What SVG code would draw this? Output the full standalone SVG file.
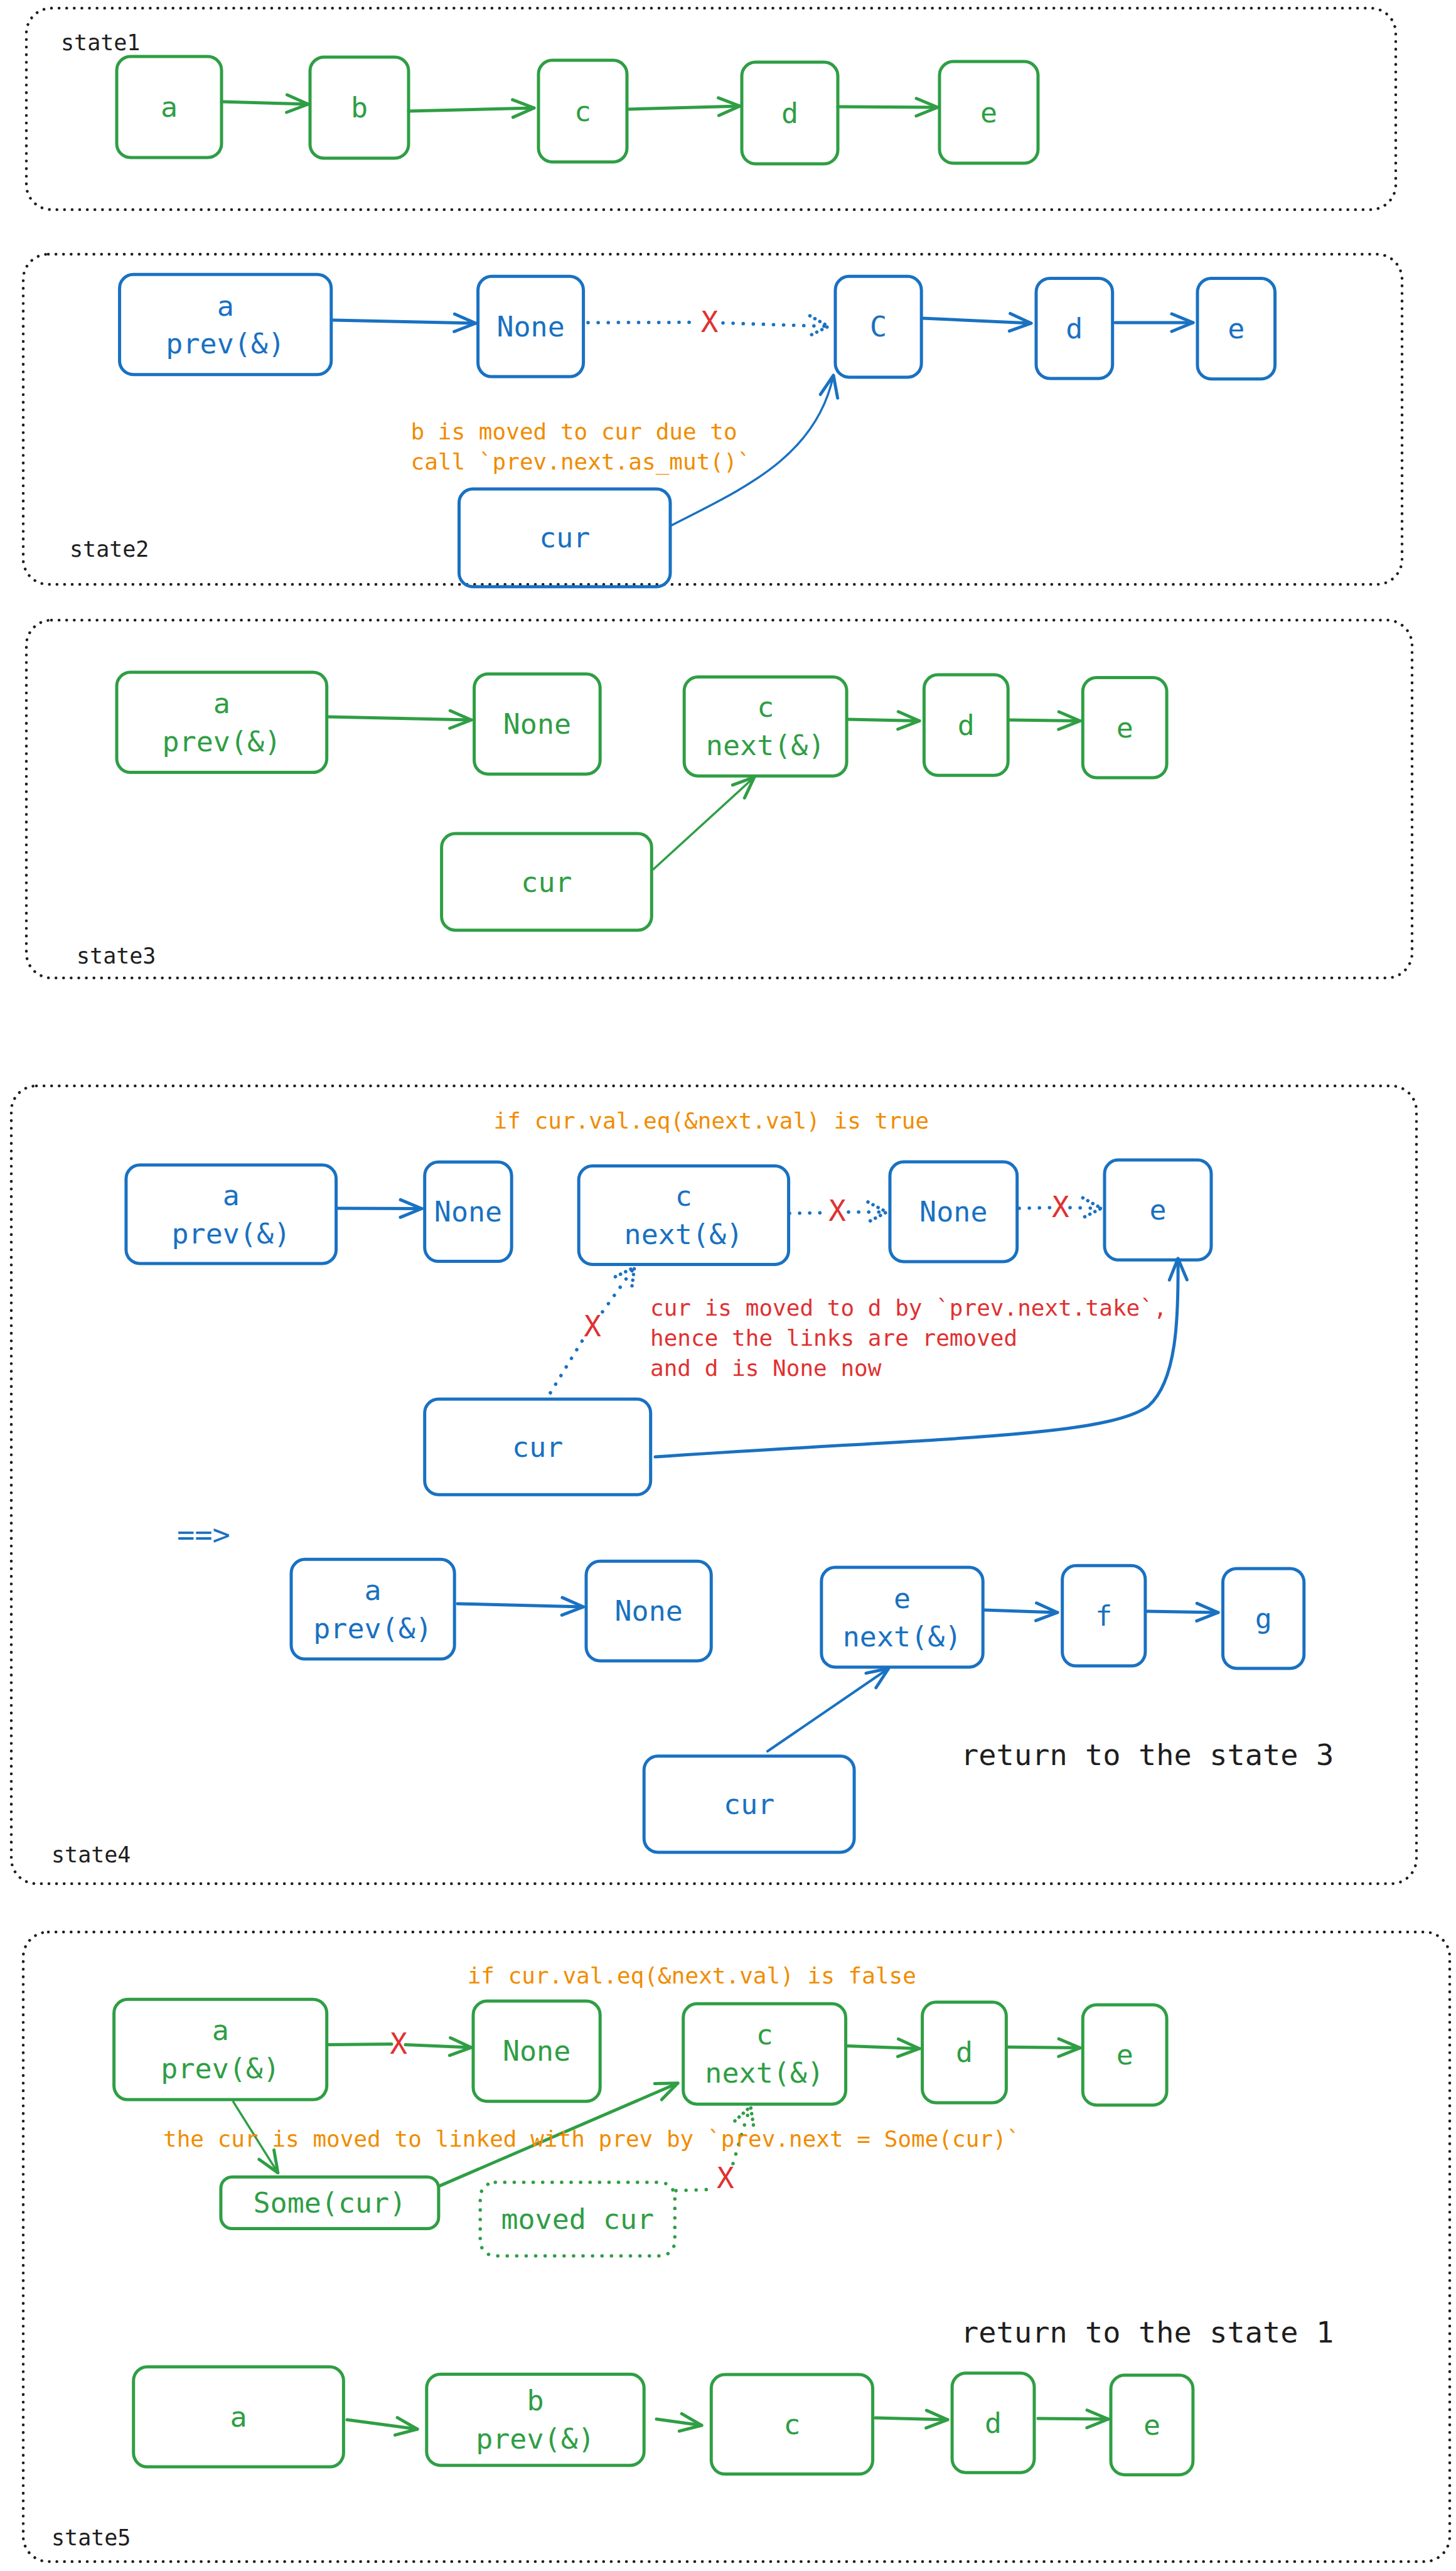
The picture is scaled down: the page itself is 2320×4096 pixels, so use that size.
<svg xmlns="http://www.w3.org/2000/svg" width="2320" height="4096" viewBox="0 0 2320 4096">
<style>
.ctr{fill:none;stroke:#1e1e1e;stroke-width:4.5;stroke-dasharray:0.1 12;stroke-linecap:round}
.nb{fill:none;stroke:#1971c2;stroke-width:5}
.ng{fill:none;stroke:#2f9e44;stroke-width:5}
.ngd{fill:none;stroke:#2f9e44;stroke-width:5.5;stroke-dasharray:0.1 15;stroke-linecap:round}
.ab{fill:none;stroke:#1971c2;stroke-width:5;stroke-linecap:round}
.ag{fill:none;stroke:#2f9e44;stroke-width:5;stroke-linecap:round}
.thin{stroke-width:3.5}
.abd{fill:none;stroke:#1971c2;stroke-width:5.5;stroke-dasharray:0.1 16;stroke-linecap:round}
.agd{fill:none;stroke:#2f9e44;stroke-width:5.5;stroke-dasharray:0.1 16;stroke-linecap:round}
text{font-family:"DejaVu Sans Mono","Liberation Mono",monospace;dominant-baseline:central}
.n{font-size:45px;text-anchor:middle}
.b{fill:#1971c2}
.g{fill:#2f9e44}
.o{fill:#f08c00;font-size:36px}
.r{fill:#e03131;font-size:36px}
.k{fill:#1e1e1e}
.lbl{font-size:35px}
.big{font-size:47px}
.x{fill:#e03131;font-size:46px;text-anchor:middle}
.mid{text-anchor:middle}
</style>
<defs>
<marker id="mb" markerUnits="userSpaceOnUse" orient="auto" overflow="visible" markerWidth="1" markerHeight="1" refX="0" refY="0"><path d="M-34,-14 L0,0 L-34,14" fill="none" stroke="#1971c2" stroke-width="5" stroke-linecap="round" stroke-linejoin="round"/></marker>
<marker id="mg" markerUnits="userSpaceOnUse" orient="auto" overflow="visible" markerWidth="1" markerHeight="1" refX="0" refY="0"><path d="M-34,-14 L0,0 L-34,14" fill="none" stroke="#2f9e44" stroke-width="5" stroke-linecap="round" stroke-linejoin="round"/></marker>
<marker id="mbd" markerUnits="userSpaceOnUse" orient="auto" overflow="visible" markerWidth="1" markerHeight="1" refX="0" refY="0"><path d="M-30,-16 L0,0 L-30,16" fill="none" stroke="#1971c2" stroke-width="5.5" stroke-dasharray="0.1 9" stroke-linecap="round"/></marker>
<marker id="mgd" markerUnits="userSpaceOnUse" orient="auto" overflow="visible" markerWidth="1" markerHeight="1" refX="0" refY="0"><path d="M-30,-16 L0,0 L-30,16" fill="none" stroke="#2f9e44" stroke-width="5.5" stroke-dasharray="0.1 9" stroke-linecap="round"/></marker>
</defs>

<g id="containers">
<rect class="ctr" x="42" y="13" width="2182" height="321" rx="40"/>
<rect class="ctr" x="37" y="405" width="2197" height="526" rx="40"/>
<rect class="ctr" x="42" y="988" width="2208" height="570" rx="40"/>
<rect class="ctr" x="18" y="1730" width="2239" height="1271" rx="40"/>
<rect class="ctr" x="37" y="3078" width="2273" height="1003" rx="40"/>
<text class="k lbl" x="97" y="68">state1</text>
<text class="k lbl" x="111" y="875">state2</text>
<text class="k lbl" x="122" y="1523">state3</text>
<text class="k lbl" x="82" y="2955">state4</text>
<text class="k lbl" x="82" y="4043">state5</text>
</g>

<!-- state1 -->
<g id="s1-a"><rect class="ng" x="186" y="90" width="167" height="161" rx="22"/><text class="n g" x="269.5" y="170.5">a</text></g>
<g id="s1-b"><rect class="ng" x="494" y="91" width="157" height="161" rx="22"/><text class="n g" x="572.5" y="171.5">b</text></g>
<g id="s1-c"><rect class="ng" x="858" y="96" width="141" height="162" rx="22"/><text class="n g" x="928.5" y="177">c</text></g>
<g id="s1-d"><rect class="ng" x="1182" y="99" width="153" height="162" rx="22"/><text class="n g" x="1258.5" y="180">d</text></g>
<g id="s1-e"><rect class="ng" x="1497" y="98" width="157" height="162" rx="22"/><text class="n g" x="1575.5" y="179">e</text></g>

<!-- state2 -->
<g id="s2-a"><rect class="nb" x="190.5" y="437.3" width="337.3" height="159.4" rx="22"/><text class="n b" x="359.2" y="487">a</text><text class="n b" x="359.2" y="547">prev(&amp;)</text></g>
<g id="s2-none"><rect class="nb" x="761.6" y="440.2" width="168" height="159.9" rx="22"/><text class="n b" x="845.6" y="520.2">None</text></g>
<g id="s2-c"><rect class="nb" x="1331" y="440.2" width="137.2" height="160.7" rx="22"/><text class="n b" x="1399.6" y="520.6">C</text></g>
<g id="s2-d"><rect class="nb" x="1651" y="443.4" width="121.7" height="159.6" rx="22"/><text class="n b" x="1711.9" y="523.2">d</text></g>
<g id="s2-e"><rect class="nb" x="1908" y="443.6" width="123.6" height="160.2" rx="22"/><text class="n b" x="1969.8" y="523.7">e</text></g>
<g id="s2-cur"><rect class="nb" x="731.5" y="779" width="336.5" height="155.7" rx="22"/><text class="n b" x="899.8" y="856.9">cur</text></g>
<g id="s2-note"><text class="o" x="654.5" y="687">b is moved to cur due to</text><text class="o" x="654.5" y="735">call `prev.next.as_mut()`</text></g>

<!-- state3 -->
<g id="s3-a"><rect class="ng" x="186" y="1071" width="334.7" height="159.6" rx="22"/><text class="n g" x="353.4" y="1120.3">a</text><text class="n g" x="353.4" y="1181.3">prev(&amp;)</text></g>
<g id="s3-none"><rect class="ng" x="755.6" y="1073.8" width="200.6" height="159.4" rx="22"/><text class="n g" x="855.9" y="1153.5">None</text></g>
<g id="s3-c"><rect class="ng" x="1090.2" y="1078.5" width="258.9" height="157.8" rx="22"/><text class="n g" x="1219.7" y="1126.9">c</text><text class="n g" x="1219.7" y="1187.9">next(&amp;)</text></g>
<g id="s3-d"><rect class="ng" x="1472.4" y="1075" width="133.8" height="160.2" rx="22"/><text class="n g" x="1539.3" y="1155.1">d</text></g>
<g id="s3-e"><rect class="ng" x="1725.3" y="1079.5" width="133.8" height="159.4" rx="22"/><text class="n g" x="1792.2" y="1159.2">e</text></g>
<g id="s3-cur"><rect class="ng" x="703.6" y="1328" width="334.7" height="153.9" rx="22"/><text class="n g" x="871" y="1405">cur</text></g>

<!-- state4 top -->
<g id="s4-title"><text class="o mid" x="1133.4" y="1785">if cur.val.eq(&amp;next.val) is true</text></g>
<g id="s4-a"><rect class="nb" x="200.9" y="1856" width="334.7" height="157" rx="22"/><text class="n b" x="368.3" y="1904">a</text><text class="n b" x="368.3" y="1965">prev(&amp;)</text></g>
<g id="s4-none"><rect class="nb" x="676.7" y="1851.3" width="138.5" height="158.3" rx="22"/><text class="n b" x="746" y="1930.5">None</text></g>
<g id="s4-c"><rect class="nb" x="922.2" y="1857.6" width="334.4" height="156.8" rx="22"/><text class="n b" x="1089.4" y="1905.5">c</text><text class="n b" x="1089.4" y="1966.5">next(&amp;)</text></g>
<g id="s4-none2"><rect class="nb" x="1418" y="1851" width="202.7" height="159" rx="22"/><text class="n b" x="1519.3" y="1930.5">None</text></g>
<g id="s4-e"><rect class="nb" x="1760" y="1848" width="170" height="159.3" rx="22"/><text class="n b" x="1845" y="1927.6">e</text></g>
<g id="s4-cur"><rect class="nb" x="676.7" y="2229" width="360" height="152.3" rx="22"/><text class="n b" x="856.7" y="2305.2">cur</text></g>
<g id="s4-note"><text class="r" x="1036" y="2083.5">cur is moved to d by `prev.next.take`,</text><text class="r" x="1036" y="2131">hence the links are removed</text><text class="r" x="1036" y="2179.5">and d is None now</text></g>

<!-- state4 bottom -->
<g id="s4-arrow-text"><text class="b big" x="282" y="2444">==&gt;</text></g>
<g id="s4b-a"><rect class="nb" x="464" y="2484.3" width="260.2" height="158.8" rx="22"/><text class="n b" x="594.1" y="2533.2">a</text><text class="n b" x="594.1" y="2594.2">prev(&amp;)</text></g>
<g id="s4b-none"><rect class="nb" x="934" y="2487.2" width="199.3" height="158.8" rx="22"/><text class="n b" x="1033.7" y="2566.6">None</text></g>
<g id="s4b-e"><rect class="nb" x="1308.9" y="2497.1" width="257.3" height="158.8" rx="22"/><text class="n b" x="1437.6" y="2546">e</text><text class="n b" x="1437.6" y="2607">next(&amp;)</text></g>
<g id="s4b-f"><rect class="nb" x="1692.7" y="2494.2" width="132.2" height="159.9" rx="22"/><text class="n b" x="1758.8" y="2574.2">f</text></g>
<g id="s4b-g"><rect class="nb" x="1948.5" y="2498.9" width="129.3" height="159.1" rx="22"/><text class="n b" x="2013.2" y="2578.5">g</text></g>
<g id="s4b-cur"><rect class="nb" x="1026.2" y="2797.8" width="334.9" height="153.1" rx="22"/><text class="n b" x="1193.7" y="2874.4">cur</text></g>
<g id="s4-return"><text class="k big" x="1531" y="2795.5">return to the state 3</text></g>

<!-- state5 -->
<g id="s5-title"><text class="o mid" x="1102.3" y="3147">if cur.val.eq(&amp;next.val) is false</text></g>
<g id="s5-a"><rect class="ng" x="181.6" y="3185.2" width="339.1" height="159.9" rx="22"/><text class="n g" x="351.2" y="3234.7">a</text><text class="n g" x="351.2" y="3295.7">prev(&amp;)</text></g>
<g id="s5-none"><rect class="ng" x="754" y="3188.1" width="202.2" height="159.6" rx="22"/><text class="n g" x="855.1" y="3267.9">None</text></g>
<g id="s5-c"><rect class="ng" x="1088.7" y="3192.3" width="258.9" height="159.9" rx="22"/><text class="n g" x="1218.2" y="3241.8">c</text><text class="n g" x="1218.2" y="3302.8">next(&amp;)</text></g>
<g id="s5-d"><rect class="ng" x="1469.6" y="3189.7" width="133.8" height="160.2" rx="22"/><text class="n g" x="1536.5" y="3269.8">d</text></g>
<g id="s5-e"><rect class="ng" x="1725.3" y="3193.9" width="133.8" height="159.9" rx="22"/><text class="n g" x="1792.2" y="3273.9">e</text></g>
<g id="s5-some"><rect class="ng" x="351.9" y="3468.2" width="347" height="82.3" rx="18"/><text class="n g" x="525.4" y="3509.4">Some(cur)</text></g>
<g id="s5-moved"><rect class="ngd" x="765.2" y="3476.8" width="310.1" height="117.3" rx="24"/><text class="n g" x="920.3" y="3535.5">moved cur</text></g>
<g id="s5-return"><text class="k big" x="1531" y="3715">return to the state 1</text></g>
<g id="s5b-a"><rect class="ng" x="212.7" y="3770.7" width="334.7" height="159.4" rx="22"/><text class="n g" x="380" y="3850.4">a</text></g>
<g id="s5b-b"><rect class="ng" x="679.8" y="3782.5" width="346.4" height="145.3" rx="22"/><text class="n g" x="853" y="3824.7">b</text><text class="n g" x="853" y="3885.7">prev(&amp;)</text></g>
<g id="s5b-c"><rect class="ng" x="1133.3" y="3783" width="257.3" height="158.6" rx="22"/><text class="n g" x="1262" y="3862.3">c</text></g>
<g id="s5b-d"><rect class="ng" x="1517.1" y="3780.7" width="130.9" height="158.6" rx="22"/><text class="n g" x="1582.5" y="3860">d</text></g>
<g id="s5b-e"><rect class="ng" x="1770" y="3784.1" width="130.9" height="158.6" rx="22"/><text class="n g" x="1835.5" y="3863.4">e</text></g>

<g id="connectors">
<!-- state1 -->
<path class="ag" d="M353,162 L491,166" marker-end="url(#mg)"/>
<path class="ag" d="M651,177 L851,172" marker-end="url(#mg)"/>
<path class="ag" d="M1000,174 L1179,169" marker-end="url(#mg)"/>
<path class="ag" d="M1335,170 L1494,171" marker-end="url(#mg)"/>
<!-- state2 -->
<path class="ab" d="M531,510 L758,515" marker-end="url(#mb)"/>
<path class="abd" d="M937,514 L1110,513.5"/>
<path class="abd" d="M1152,514.5 L1320,520" marker-end="url(#mbd)"/>
<text class="x" x="1130.5" y="513">X</text>
<path class="ab" d="M1470,507 L1643,515" marker-end="url(#mb)"/>
<path class="ab" d="M1777,514 L1901,514" marker-end="url(#mb)"/>
<path class="ab thin" d="M1068,838 C1180,780 1300,730 1328,598" marker-end="url(#mb)"/>
<!-- state3 -->
<path class="ag" d="M524,1142 L751,1147" marker-end="url(#mg)"/>
<path class="ag" d="M1351,1146 L1465,1148.5" marker-end="url(#mg)"/>
<path class="ag" d="M1609,1147 L1721,1148.5" marker-end="url(#mg)"/>
<path class="ag thin" d="M1041,1385 L1202,1238" marker-end="url(#mg)"/>
<!-- state4 top -->
<path class="ab" d="M538,1925 L672,1925.5" marker-end="url(#mb)"/>
<path class="abd" d="M1258,1933 L1318,1932"/>
<path class="abd" d="M1352,1931 L1413,1931" marker-end="url(#mbd)"/>
<text class="x" x="1334.2" y="1928.6">X</text>
<path class="abd" d="M1624,1925 L1673,1924"/>
<path class="abd" d="M1705,1924 L1755,1925" marker-end="url(#mbd)"/>
<text class="x" x="1689.8" y="1922.8">X</text>
<path class="abd" d="M877,2219 L929,2134"/>
<path class="abd" d="M960,2090 L1011,2019" marker-end="url(#mbd)"/>
<text class="x" x="944.2" y="2112.8">X</text>
<path class="ab" d="M1044,2321 C1500,2290 1760,2290 1830,2240 C1875,2200 1878,2100 1877,2005" marker-end="url(#mb)"/>
<!-- state4 bottom -->
<path class="ab" d="M729,2555 L929.6,2560" marker-end="url(#mb)"/>
<path class="ab" d="M1569,2565 L1685,2569" marker-end="url(#mb)"/>
<path class="ab" d="M1826,2567 L1941,2569" marker-end="url(#mb)"/>
<path class="ab" style="stroke-width:4" d="M1223,2790 L1416,2658" marker-end="url(#mb)"/>
<!-- state5 -->
<path class="ag" d="M523.6,3257.4 L624,3256.6"/>
<path class="ag" d="M646,3257.5 L751,3262" marker-end="url(#mg)"/>
<text class="x" x="635.1" y="3256.3">X</text>
<path class="ag" d="M1350.7,3259.5 L1465,3263.7" marker-end="url(#mg)"/>
<path class="ag" d="M1606,3261.3 L1721,3262.6" marker-end="url(#mg)"/>
<path class="ag thin" d="M371.8,3348.6 L442.8,3461.6" marker-end="url(#mg)"/>
<path class="ag" d="M698.9,3483.1 L1080,3318.8" marker-end="url(#mg)"/>
<path class="agd" d="M1077,3490 L1135,3488"/>
<path class="agd" d="M1168,3447 C1176,3420 1184,3390 1196,3356" marker-end="url(#mgd)"/>
<text class="x" x="1155.8" y="3470.3">X</text>
<path class="ag" d="M553,3855 L665,3870" marker-end="url(#mg)"/>
<path class="ag" d="M1046,3854 L1118,3864" marker-end="url(#mg)"/>
<path class="ag" d="M1395,3852 L1510,3855" marker-end="url(#mg)"/>
<path class="ag" d="M1654,3853 L1766,3854" marker-end="url(#mg)"/>
</g>

<g id="s5-note"><text class="o" x="260" y="3407.6">the cur is moved to linked with prev by `prev.next = Some(cur)`</text></g>
</svg>
